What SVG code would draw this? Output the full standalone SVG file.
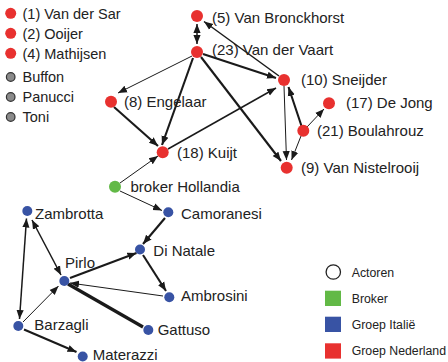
<svg xmlns="http://www.w3.org/2000/svg" width="448" height="362" viewBox="0 0 448 362">
<style>
text{font-family:"Liberation Sans",Arial,sans-serif;fill:#222}
.lg{font-size:14.5px}
.nl{font-size:15px}
.sl{font-size:12.3px}
.r{fill:#e8312f}
.b{fill:#3853a4}
.g{fill:#62b946}
.gr{fill:#8a8a8a;stroke:#333;stroke-width:1.2}
#edges line{stroke:#1a1a1a;fill:none}
.w1{stroke-width:1}
.w15{stroke-width:1.5}
.w2{stroke-width:2.1}
.w3{stroke-width:3.2}
.a{marker-end:url(#ah)}
.aa{marker-end:url(#ah);marker-start:url(#ah)}
</style>
<defs>
<marker id="ah" viewBox="0 0 10 10" refX="10" refY="5" markerWidth="9" markerHeight="9" markerUnits="userSpaceOnUse" orient="auto-start-reverse">
<path d="M0,1 L10,5 L0,9 z" fill="#1a1a1a"/>
</marker>
</defs>
<rect width="448" height="362" fill="#fff"/>
<g id="legend-players">
<circle class="r" cx="10.7" cy="13.3" r="5.5"/><text class="lg" x="22.5" y="18.5">(1) Van der Sar</text>
<circle class="r" cx="10.7" cy="33.3" r="5.5"/><text class="lg" x="22.5" y="38.5">(2) Ooijer</text>
<circle class="r" cx="10.7" cy="53.3" r="5.5"/><text class="lg" x="22.5" y="58.5">(4) Mathijsen</text>
<circle class="gr" cx="10.7" cy="77" r="4.3"/><text class="lg" x="22.5" y="82">Buffon</text>
<circle class="gr" cx="10.7" cy="97" r="4.3"/><text class="lg" x="22.5" y="102">Panucci</text>
<circle class="gr" cx="10.7" cy="117" r="4.3"/><text class="lg" x="22.5" y="122">Toni</text>
</g>
<g id="edges">
<line class="w15 aa" x1="197" y1="24" x2="197" y2="44"/>
<line class="w15 a" x1="279" y1="76" x2="204" y2="21.5"/>
<line class="w2 a" x1="203" y1="54" x2="276" y2="78"/>
<line class="w1 a" x1="192" y1="56" x2="118" y2="93"/>
<line class="w2 a" x1="193" y1="58" x2="162" y2="145"/>
<line class="w2 a" x1="201" y1="57" x2="281" y2="161"/>
<line class="w2 a" x1="114" y1="107" x2="158" y2="146"/>
<line class="w15 a" x1="168" y1="149" x2="276" y2="88"/>
<line class="w1 a" x1="284" y1="86" x2="286.5" y2="160"/>
<line class="w2 a" x1="301.5" y1="126" x2="288.5" y2="87"/>
<line class="w1 a" x1="307" y1="127" x2="324" y2="109"/>
<line class="w1 a" x1="301" y1="136" x2="291.5" y2="160"/>
<line class="w1 a" x1="120" y1="183" x2="158" y2="156"/>
<line class="w1 a" x1="120" y1="191" x2="162" y2="210.5"/>
<line class="w2 a" x1="165" y1="218" x2="143" y2="244"/>
<line class="w2 a" x1="143" y1="255" x2="166" y2="291"/>
<line class="w15 aa" x1="32" y1="220" x2="61" y2="275"/>
<line class="w15 aa" x1="26.5" y1="218.5" x2="19.5" y2="319"/>
<line class="w1 a" x1="23" y1="322" x2="58.5" y2="286"/>
<line class="w2 a" x1="24" y1="329.5" x2="76.5" y2="352"/>
<line class="w2 a" x1="70" y1="278" x2="136.5" y2="253"/>
<line class="w1 a" x1="163" y1="296" x2="70" y2="283"/>
<line class="w3" x1="143" y1="327" x2="68" y2="284"/>
</g>
<g id="n-bronckhorst"><circle class="r" cx="197" cy="16" r="6"/><text class="nl" x="212" y="22.5">(5) Van Bronckhorst</text></g>
<g id="n-vandervaart"><circle class="r" cx="197" cy="52" r="6"/><text class="nl" x="212" y="55">(23) Van der Vaart</text></g>
<g id="n-sneijder"><circle class="r" cx="284" cy="80" r="6"/><text class="nl" x="301" y="85">(10) Sneijder</text></g>
<g id="n-dejong"><circle class="r" cx="329" cy="103.3" r="6"/><text class="nl" x="346" y="108">(17) De Jong</text></g>
<g id="n-boulahrouz"><circle class="r" cx="303.3" cy="130.7" r="6"/><text class="nl" x="317" y="136">(21) Boulahrouz</text></g>
<g id="n-nistelrooij"><circle class="r" cx="286.7" cy="167.7" r="6"/><text class="nl" x="301" y="172.7">(9) Van Nistelrooij</text></g>
<g id="n-engelaar"><circle class="r" cx="111" cy="101.7" r="6"/><text class="nl" x="124" y="107">(8) Engelaar</text></g>
<g id="n-kuijt"><circle class="r" cx="162.7" cy="152.3" r="6"/><text class="nl" x="177" y="157.7">(18) Kuijt</text></g>
<g id="n-hollandia"><circle class="g" cx="115" cy="186.7" r="6"/><text class="nl" x="130.5" y="191.7">broker Hollandia</text></g>
<g id="n-zambrotta"><circle class="b" cx="27.3" cy="211" r="5"/><text class="nl" x="35" y="219">Zambrotta</text></g>
<g id="n-camoranesi"><circle class="b" cx="168.3" cy="212.3" r="5"/><text class="nl" x="181" y="219">Camoranesi</text></g>
<g id="n-dinatale"><circle class="b" cx="140" cy="249.5" r="5"/><text class="nl" x="153.3" y="255.7">Di Natale</text></g>
<g id="n-pirlo"><circle class="b" cx="64.3" cy="281" r="5"/><text class="nl" x="65" y="268">Pirlo</text></g>
<g id="n-ambrosini"><circle class="b" cx="169.3" cy="297.3" r="5"/><text class="nl" x="181" y="301">Ambrosini</text></g>
<g id="n-barzagli"><circle class="b" cx="18.3" cy="326" r="5"/><text class="nl" x="34.3" y="330">Barzagli</text></g>
<g id="n-gattuso"><circle class="b" cx="148.3" cy="330" r="5"/><text class="nl" x="157.7" y="335">Gattuso</text></g>
<g id="n-materazzi"><circle class="b" cx="82.7" cy="356.5" r="5"/><text class="nl" x="92.7" y="359.5">Materazzi</text></g>
<g id="legend-key">
<circle cx="333.3" cy="272" r="7.2" fill="none" stroke="#222" stroke-width="1.3"/><text class="sl" x="351.7" y="276.7">Actoren</text>
<rect class="g" x="325" y="290.7" width="16" height="15.3"/><text class="sl" x="351.7" y="303">Broker</text>
<rect class="b" x="325" y="316.7" width="16" height="15.3"/><text class="sl" x="351.7" y="329">Groep Italië</text>
<rect class="r" x="325" y="343.3" width="16" height="15.3"/><text class="sl" x="351.7" y="355">Groep Nederland</text>
</g>
</svg>
